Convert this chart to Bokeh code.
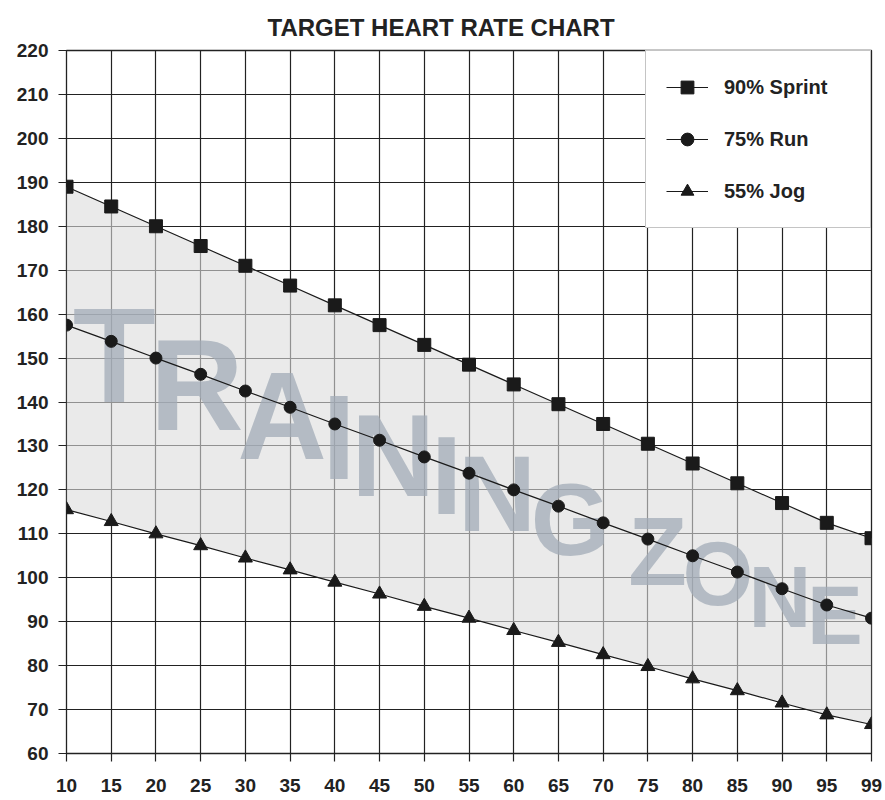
import numpy as np
from bokeh.plotting import figure
from bokeh.models import Range1d, FixedTicker, ColumnDataSource
from bokeh.core.properties import value
from bokeh.embed import file_html
from bokeh.resources import INLINE

# ---------------- data ----------------
ages = ["10", "15", "20", "25", "30", "35", "40", "45", "50", "55",
        "60", "65", "70", "75", "80", "85", "90", "95", "99"]
sprint_90 = [189, 184.5, 180, 175.5, 171, 166.5, 162, 157.5, 153, 148.5,
             144, 139.5, 135, 130.5, 126, 121.5, 117, 112.5, 109]
run_75 = [157.5, 153.8, 150, 146.3, 142.5, 138.8, 135, 131.3, 127.5, 123.8,
          120, 116.3, 112.5, 108.8, 105, 101.3, 97.5, 93.8, 90.8]
jog_55 = [115.5, 112.8, 110, 107.3, 104.5, 101.8, 99, 96.3, 93.5, 90.8,
          88, 85.3, 82.5, 79.8, 77, 74.3, 71.5, 68.8, 66.6]
y_ticks = [60, 70, 80, 90, 100, 110, 120, 130, 140, 150, 160,
           170, 180, 190, 200, 210, 220]
series_labels = ["90% Sprint", "75% Run", "55% Jog"]
watermark = "TRAINING ZONE"

# ---------------- layout ----------------
W, H = 885, 800
B_LEFT, B_RIGHT, B_TOP, B_BOTTOM = 66, 14, 50, 47
xs = list(range(len(ages)))
ppu = (H - B_TOP - B_BOTTOM) / (y_ticks[-1] - y_ticks[0])   # px per bpm
ppx = (W - B_LEFT - B_RIGHT) / (len(ages) - 1)               # px per age step

p = figure(width=W, height=H, output_backend="svg", toolbar_location=None,
           x_range=Range1d(0, len(ages) - 1), y_range=Range1d(y_ticks[0], y_ticks[-1]),
           min_border_left=B_LEFT, min_border_right=B_RIGHT,
           min_border_top=B_TOP, min_border_bottom=B_BOTTOM,
           title="TARGET HEART RATE CHART")
p.background_fill_color = "white"
p.border_fill_color = "white"
p.outline_line_color = "#222222"
p.outline_line_width = 1.3

p.title.text_font = "Liberation Sans"
p.title.text_font_style = "bold"
p.title.text_font_size = "24px"
p.title.text_color = "#222222"
p.title.align = "left"
p.title.offset = 201
p.title.standoff = 20

# shaded zone between sprint and jog
p.varea(x=xs, y1=jog_55, y2=sprint_90, fill_color="#dcdcdc", fill_alpha=0.6)

# watermark letters laid out along the zone, size following the zone height
adv = {"T": .611, "R": .722, "A": .722, "I": .278, "N": .722, "G": .778,
       "Z": .611, "O": .778, "E": .667, " ": .25}
track = 0.93
u0, u1 = 9 / ppx, (len(ages) - 1) - 11 / ppx


def band_px(u):
    return (np.interp(u, xs, sprint_90) - np.interp(u, xs, jog_55)) * ppu


def layout(k):
    cur, out = u0, []
    for ch in watermark:
        s = k * band_px(cur)
        for _ in range(3):
            a = adv[ch] * track * s / ppx
            s = k * band_px(min(cur + a / 2, len(ages) - 1))
        a = adv[ch] * track * s / ppx
        out.append((ch, cur + a / 2, s))
        cur += a
    return cur, out


lo, hi = 0.1, 3.0
for _ in range(40):
    mid = (lo + hi) / 2
    if layout(mid)[0] > u1:
        hi = mid
    else:
        lo = mid
_, letters = layout(lo)
letters = [l for l in letters if l[0] != " "]
wx = [l[1] for l in letters]
wsz = [l[2] for l in letters]
mid_y = (np.interp(wx, xs, sprint_90) + np.interp(wx, xs, jog_55)) / 2
wy = [m - 0.716 * s / 2 / ppu + 0.43 * s / ppu for m, s in zip(mid_y, wsz)]
wm_src = ColumnDataSource(dict(x=wx, y=wy, t=[l[0] for l in letters],
                               size=["%dpx" % round(s) for s in wsz]))
p.text(x="x", y="y", text="t", text_font_size="size", source=wm_src,
       text_align="center", text_baseline="alphabetic",
       text_font=value("Liberation Sans"), text_font_style="bold",
       text_color="#a1abb7", text_alpha=0.75)

# series
ink = "#1a1a1a"
for ys, lab, mk, sz in zip([sprint_90, run_75, jog_55], series_labels,
                           ["square", "circle", "triangle"], [13, 12, 14]):
    p.line(xs, ys, line_color=ink, line_width=1.2, legend_label=lab)
    p.scatter(xs, ys, marker=mk, size=sz, fill_color=ink, line_color=ink,
              legend_label=lab)

# axes
p.xaxis.ticker = FixedTicker(ticks=xs)
p.xaxis.major_label_overrides = {i: a for i, a in enumerate(ages)}
p.yaxis.ticker = FixedTicker(ticks=y_ticks)
for ax in p.axis:
    ax.axis_line_color = None
    ax.major_tick_out = 8
    ax.major_tick_in = 0
    ax.major_tick_line_color = "#222222"
    ax.major_tick_line_width = 1.2
    ax.minor_tick_line_color = None
    ax.major_label_text_font = "Liberation Sans"
    ax.major_label_text_font_style = "bold"
    ax.major_label_text_font_size = "19px"
    ax.major_label_text_color = "#222222"
p.xaxis.major_label_standoff = 17
p.yaxis.major_label_standoff = 10

p.grid.grid_line_color = "#222222"
p.grid.grid_line_width = 1.2
p.grid.grid_line_alpha = 1.0

# legend
lg = p.legend[0]
lg.location = "top_right"
lg.margin = 0
lg.padding = 20
lg.spacing = 20
lg.label_standoff = 16
lg.glyph_width = 42
lg.glyph_height = 32
lg.label_height = 32
lg.label_width = 126
lg.border_line_color = "#8a8a8a"
lg.border_line_width = 1
lg.background_fill_color = "white"
lg.background_fill_alpha = 1.0
lg.label_text_font = "Liberation Sans"
lg.label_text_font_style = "bold"
lg.label_text_font_size = "20px"
lg.label_text_color = "#222222"

open("out.html", "w").write(file_html(p, INLINE))
